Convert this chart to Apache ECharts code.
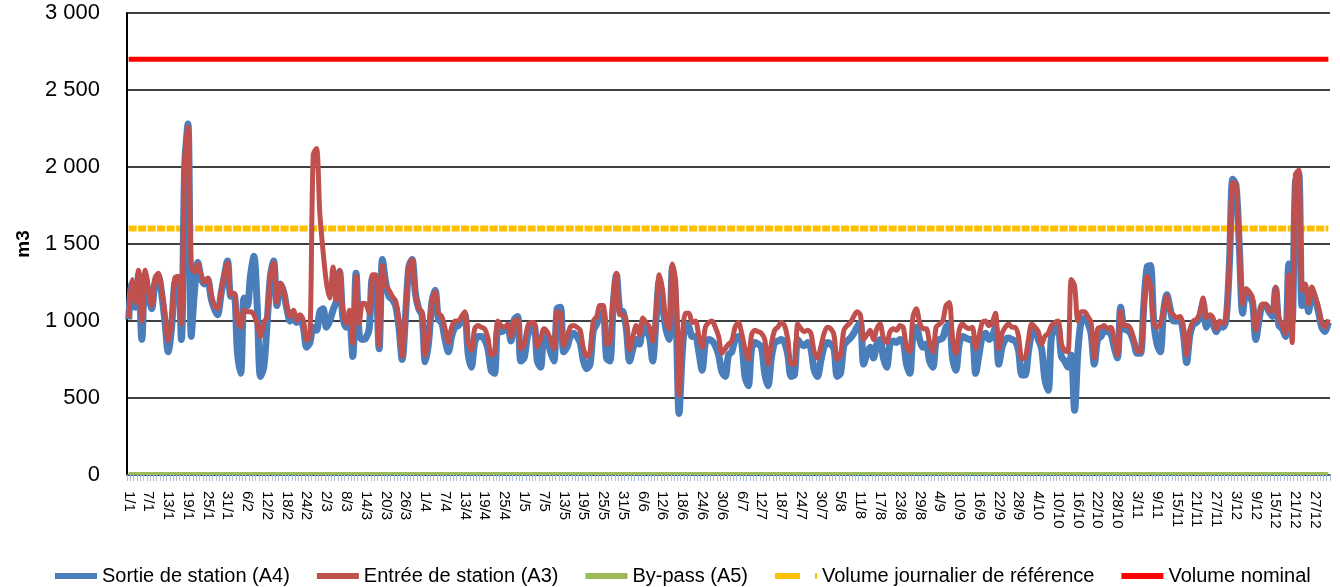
<!DOCTYPE html>
<html>
<head>
<meta charset="utf-8">
<script src="https://cdn.jsdelivr.net/npm/echarts@6/dist/echarts.min.js"></script>
<style>
  html, body { margin: 0; padding: 0; background: #fff; }
  #chart { width: 1340px; height: 587px; }
</style>
</head>
<body>
<div id="chart"></div>
<script>
// jours de l'année (non bissextile)
const monthDays = [31, 28, 31, 30, 31, 30, 31, 31, 30, 31, 30, 31]
const days = []
monthDays.forEach((n, m) => {
  for (let d = 1; d <= n; d++) days.push(d + '/' + (m + 1))
})

// Entrée de station (A3), m3/jour
const entree = [
  1020, 1270, 1120, 1330, 1000, 1330, 1200, 1100, 1280, 1310,
  1200, 1050, 870, 1000, 1280, 1290, 980, 2050, 2260, 1350,
  1320, 1370, 1300, 1250, 1280, 1180, 1100, 1080, 1190, 1300,
  1380, 1170, 1180, 1000, 960, 1070, 1060, 1060, 1040, 980,
  900, 990, 1030, 1300, 1380, 1120, 1245, 1200, 1095, 1030,
  1070, 1005, 1040, 1005, 875, 900, 2080, 2120, 1700, 1450,
  1250, 1150, 1350, 1135, 1330, 1070, 985, 1070, 855, 1290,
  985, 1115, 1110, 1050, 1300, 1300, 840, 1360, 1230, 1200,
  1160, 1130, 1000, 770, 1050, 1350, 1400, 1180, 1080, 1060,
  775, 900, 1130, 1190, 1050, 1030, 950, 860, 960, 1000,
  1000, 1030, 1060, 860, 810, 950, 970, 960, 950, 890,
  780, 790, 1000, 970, 960, 980, 900, 1000, 1010, 820,
  850, 960, 990, 990, 830, 880, 950, 930, 880, 820,
  1060, 1050, 840, 900, 960, 970, 960, 940, 820, 770,
  800, 1000, 1030, 1100, 1100, 850, 860, 1150, 1310, 1040,
  1040, 990, 810, 900, 970, 910, 1020, 990, 960, 870,
  1050, 1300, 1200, 1000, 950, 1370, 1250, 520, 900, 1050,
  1050, 990, 1000, 900, 830, 960, 990, 1000, 960, 900,
  790, 820, 850, 870, 960, 990, 920, 820, 750, 910,
  940, 930, 920, 880, 720, 850, 940, 960, 990, 970,
  880, 720, 720, 980, 950, 930, 940, 920, 800, 760,
  830, 920, 960, 950, 910, 750, 780, 940, 970, 990,
  1030, 1060, 1040, 880, 910, 940, 880, 950, 980, 890,
  860, 930, 950, 940, 970, 960, 830, 800, 1030, 1080,
  990, 950, 950, 860, 800, 960, 980, 1000, 1100, 1120,
  880, 790, 940, 980, 960, 950, 960, 820, 900, 990,
  1000, 970, 990, 1050, 820, 920, 960, 980, 960, 960,
  900, 755, 760, 880, 980, 960, 930, 850, 900, 920,
  970, 990, 1000, 850, 810, 800, 1270, 1230, 1000, 1060,
  1060, 1030, 990, 760, 950, 960, 970, 950, 960, 880,
  780, 1060, 970, 970, 950, 880, 810, 800, 1060, 1290,
  1230, 990, 960, 980, 1070, 1160, 1060, 1040, 1020, 1030,
  960, 780, 940, 1000, 1010, 1050, 1150, 1020, 1040, 1020,
  950, 1000, 980, 1030, 1400, 1900, 1890, 1500, 1110, 1210,
  1190, 1150, 940, 1040, 1110, 1110, 1070, 1060, 1220, 1020,
  970, 920, 1300, 860, 1950, 1980, 1200, 1240, 1110, 1220,
  1160, 1090, 990, 960, 1010
]

// Sortie de station (A4), m3/jour
const sortie = [
  1010, 1240, 1090, 1300, 880, 1300, 1180, 1080, 1250, 1290,
  1180, 1000, 800, 950, 1250, 1270, 880, 2000, 2280, 900,
  1200, 1380, 1280, 1240, 1270, 1150, 1080, 1040, 1170, 1290,
  1390, 1160, 1170, 800, 660, 1150, 1100, 1300, 1420, 1100,
  640, 700, 980, 1290, 1390, 1100, 1240, 1190, 1080, 1000,
  1050, 990, 1010, 960, 830, 860, 960, 940, 1060, 1080,
  960, 1000, 1070, 1130, 1320, 1020, 960, 1000, 770, 1310,
  900, 880, 890, 950, 1280, 1270, 820, 1400, 1250, 1160,
  1140, 1100, 960, 750, 1030, 1350, 1400, 1180, 1080, 1040,
  735, 860, 1120, 1200, 1010, 990, 880, 800, 900, 960,
  970, 1000, 1040, 790, 700, 860, 900, 900, 880, 820,
  680, 660, 950, 930, 940, 960, 870, 1010, 1030, 740,
  760, 900, 960, 970, 740, 700, 920, 880, 800, 740,
  1080, 1090, 800, 830, 900, 920, 900, 860, 740, 690,
  720, 940, 980, 1040, 1060, 760, 740, 1100, 1300, 1070,
  1060, 950, 740, 820, 880, 850, 960, 930, 900, 740,
  1000, 1260, 1100, 950, 880, 1350, 1100, 400, 800, 980,
  960, 900, 900, 800, 680, 860, 880, 870, 840, 780,
  670, 640, 780, 800, 880, 900, 860, 640, 580, 820,
  860, 850, 830, 660, 580, 760, 860, 870, 880, 860,
  780, 640, 650, 880, 850, 840, 860, 820, 680, 640,
  740, 830, 860, 850, 820, 640, 660, 840, 870, 890,
  920, 960, 990, 720, 790, 830, 760, 850, 880, 760,
  700, 850, 870, 860, 880, 870, 720, 660, 920, 960,
  880, 830, 850, 740, 700, 870, 880, 890, 960, 980,
  760, 680, 850, 900, 890, 880, 880, 660, 780, 900,
  920, 880, 900, 960, 720, 830, 880, 890, 880, 870,
  810, 650, 650, 800, 920, 940, 880, 820, 620, 550,
  900, 940, 960, 770, 740, 700, 780, 420, 800, 1000,
  1020, 990, 920, 720, 880, 900, 940, 930, 920, 830,
  760, 1090, 950, 940, 920, 860, 790, 790, 1100, 1350,
  1360, 1000, 850, 800, 1060, 1170, 1080, 1000, 1000, 1010,
  920, 730, 910, 980, 990, 1030, 1120, 960, 1010, 980,
  930, 970, 960, 1010, 1380, 1920, 1880, 1480, 1050, 1180,
  1160, 1120, 880, 1010, 1100, 1100, 1060, 1030, 1210, 970,
  950, 900, 1370, 1000, 1900, 1960, 1100, 1200, 1060, 1200,
  1140, 1060, 960, 930, 990
]

// valeurs constantes
const byPass = 10
const volumeReference = 1600
const volumeNominal = 2700

const yTicks = { min: 0, max: 3000, interval: 500 }

const chart = echarts.init(document.getElementById('chart'))

const fmt = (v) => String(v).replace(/\B(?=(\d{3})+(?!\d))/g, ' ')

const option = {
  animation: false,
  textStyle: { fontFamily: 'Liberation Sans, Arial, sans-serif' },
  grid: { left: 127, right: 10, top: 13, bottom: 112 },
  legend: {
    left: 50,
    top: 561,
    itemGap: 27,
    itemWidth: 42,
    itemHeight: 6,
    textStyle: { fontSize: 20, color: '#000' },
    data: [
      { name: 'Sortie de station (A4)', icon: 'rect' },
      { name: 'Entrée de station (A3)', icon: 'rect' },
      { name: 'By-pass (A5)', icon: 'rect' },
      { name: 'Volume journalier de référence', icon: 'path://M0,0h25v6h-25z M40,0h2v6h-2z' },
      { name: 'Volume nominal', icon: 'rect' }
    ]
  },
  xAxis: {
    type: 'category',
    data: days,
    boundaryGap: true,
    axisLine: { lineStyle: { color: '#3f5f8f', width: 2 } },
    axisTick: { show: true, interval: 0, length: 6, lineStyle: { color: '#a8c0e0' } },
    axisLabel: {
      interval: 5,
      rotate: -90,
      margin: 16,
      fontSize: 15,
      color: '#000'
    },
    splitLine: { show: false }
  },
  yAxis: {
    type: 'value',
    min: yTicks.min,
    max: yTicks.max,
    interval: yTicks.interval,
    name: 'm3',
    nameLocation: 'middle',
    nameRotate: 90,
    nameGap: 94,
    nameTextStyle: { fontSize: 19, fontWeight: 'bold', color: '#000' },
    axisLine: { show: true, lineStyle: { color: '#000', width: 2 } },
    axisTick: { show: false },
    axisLabel: { fontSize: 22, color: '#000', margin: 27, formatter: fmt },
    splitLine: { lineStyle: { color: '#000', width: 1.5 } }
  },
  series: [
    {
      name: 'Sortie de station (A4)',
      type: 'line',
      data: sortie,
      symbol: 'none',
      smooth: 0.3,
      color: '#4a7ebb',
      lineStyle: { width: 7, join: 'round' },
      z: 3
    },
    {
      name: 'Entrée de station (A3)',
      type: 'line',
      data: entree,
      symbol: 'none',
      smooth: 0.3,
      color: '#c0504d',
      lineStyle: { width: 5, join: 'round' },
      z: 4
    },
    {
      name: 'By-pass (A5)',
      type: 'line',
      data: days.map(() => byPass),
      symbol: 'none',
      color: '#9bbb59',
      lineStyle: { width: 3 },
      z: 5
    },
    {
      name: 'Volume journalier de référence',
      type: 'line',
      data: days.map(() => volumeReference),
      symbol: 'none',
      color: '#ffc000',
      lineStyle: { width: 6, type: [8, 1.5] },
      z: 2
    },
    {
      name: 'Volume nominal',
      type: 'line',
      data: days.map(() => volumeNominal),
      symbol: 'none',
      color: '#ff0000',
      lineStyle: { width: 5 },
      z: 2
    }
  ]
}

chart.setOption(option)
</script>
</body>
</html>
